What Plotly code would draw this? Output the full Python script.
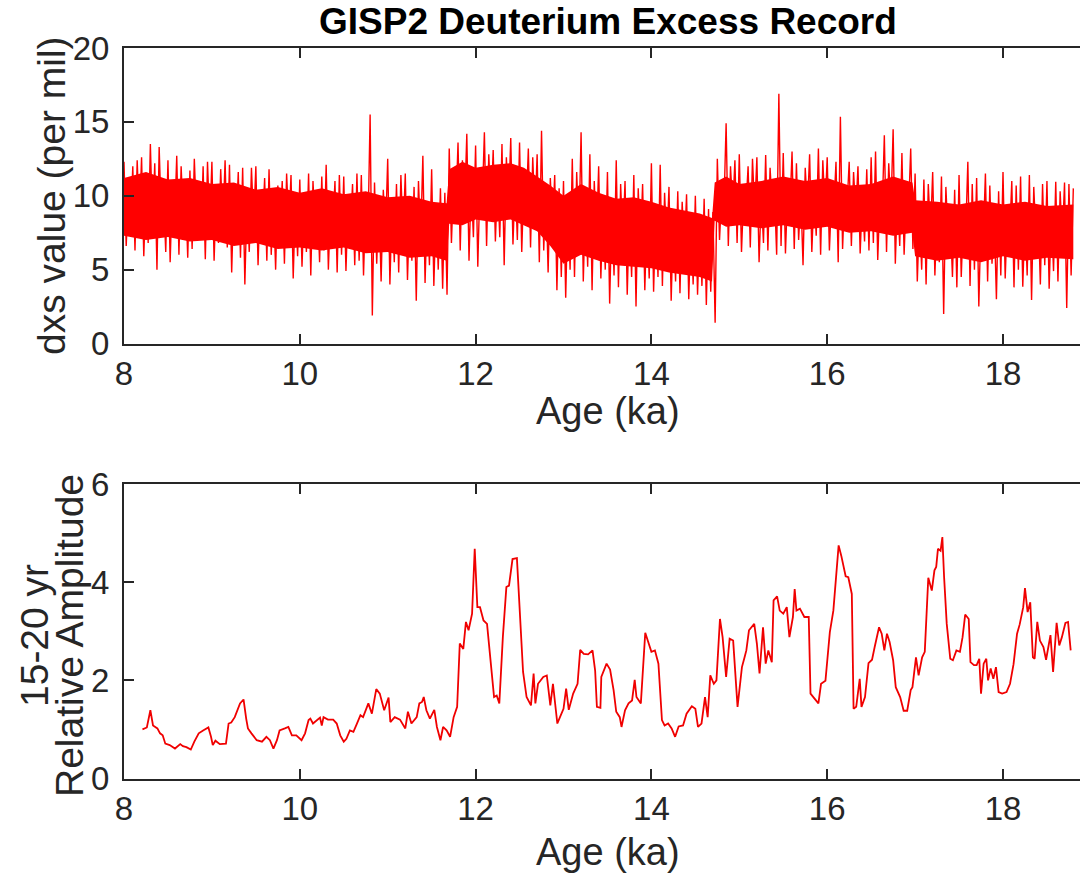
import numpy as np
import plotly.graph_objects as go

# ---------------- GISP2 deuterium excess (per mil) ----------------
# evenly sampled record, 0.025 ka spacing starting at 8.00 ka
dxs_start = 8.0
dxs_step = 0.025
dxs_samples = [
    # 8.0 - 8.5 ka
    12.3, 6.6, 10.2, 8.0, 12.0, 6.3, 12.4, 8.2, 12.6, 5.9, 10.4, 6.8, 13.5, 7.9, 12.2, 5.0, 13.3, 8.3, 10.1, 6.2,
    # 8.5 - 9.0
    12.4, 5.5, 10.6, 8.1, 12.7, 6.0, 12.0, 8.3, 10.5, 5.8, 11.7, 6.4, 12.5, 8.4, 10.2, 7.0, 12.0, 5.7, 12.3, 8.0,
    # 9.0 - 9.5
    12.3, 5.6, 10.3, 6.8, 11.8, 8.0, 12.4, 6.5, 12.1, 4.8, 10.2, 7.9, 11.6, 5.8, 11.9, 4.0, 10.0, 6.2, 11.9, 8.1,
    # 9.5 - 10.0
    12.0, 5.3, 10.0, 7.8, 11.2, 5.6, 11.8, 6.0, 9.9, 5.0, 10.7, 7.6, 11.0, 5.4, 11.5, 7.9, 11.4, 4.4, 9.8, 5.9,
    # 10.0 - 10.5
    11.1, 5.2, 9.6, 6.2, 11.5, 4.6, 11.0, 7.7, 9.9, 5.5, 11.3, 6.3, 12.1, 5.0, 9.5, 7.6, 11.0, 4.8, 11.4, 6.0,
    # 10.5 - 11.0
    11.3, 4.9, 9.6, 7.5, 10.8, 5.3, 11.5, 5.6, 11.4, 4.6, 9.7, 7.4, 15.5, 1.9, 10.9, 5.4, 9.8, 4.2, 10.4, 7.3,
    # 11.0 - 11.5
    12.5, 4.0, 9.5, 5.5, 10.8, 4.8, 11.4, 7.2, 11.5, 4.3, 9.2, 5.6, 10.6, 2.9, 11.0, 7.0, 12.7, 4.1, 9.4, 5.3,
    # 11.5 - 12.0
    11.8, 3.9, 9.3, 5.0, 10.5, 3.7, 10.2, 3.3, 13.2, 6.8, 11.2, 9.0, 13.6, 6.3, 12.4, 9.2, 14.2, 5.6, 11.0, 7.2,
    # 12.0 - 12.5
    13.4, 5.2, 11.0, 9.4, 14.3, 6.6, 12.8, 9.0, 13.1, 6.9, 11.2, 7.2, 13.5, 5.3, 12.6, 9.3, 13.9, 6.7, 11.1, 7.0,
    # 12.5 - 13.0
    13.6, 6.2, 11.2, 9.0, 13.2, 6.5, 12.6, 8.6, 12.8, 5.5, 14.4, 6.3, 10.6, 4.8, 11.2, 7.8, 11.4, 3.6, 10.5, 4.5,
    # 13.0 - 13.5
    11.0, 3.1, 9.6, 5.0, 12.5, 4.5, 11.6, 7.2, 14.3, 4.2, 9.8, 5.2, 12.8, 3.6, 11.0, 7.0, 12.0, 4.4, 9.7, 5.0,
    # 13.5 - 14.0
    11.6, 2.7, 9.2, 4.6, 12.4, 3.8, 10.8, 6.8, 11.0, 3.3, 9.0, 4.5, 11.4, 2.5, 10.5, 6.6, 10.8, 3.6, 9.0, 4.4,
    # 14.0 - 14.5
    12.2, 3.5, 9.0, 4.5, 12.1, 3.9, 10.2, 6.5, 10.6, 2.9, 8.6, 4.2, 10.3, 3.4, 9.6, 6.2, 10.1, 3.0, 8.4, 4.0,
    # 14.5 - 15.0
    10.0, 3.3, 8.2, 3.9, 9.8, 2.6, 9.1, 3.5, 8.9, 1.4, 12.5, 7.0, 10.2, 9.2, 14.9, 6.6, 12.0, 9.0, 12.4, 6.8,
    # 15.0 - 15.5
    12.8, 6.2, 10.2, 9.1, 12.0, 6.5, 12.5, 8.9, 12.6, 5.5, 10.0, 6.8, 12.75, 6.3, 11.9, 9.2, 10.3, 6.0, 16.9, 6.6,
    # 15.5 - 16.0
    12.9, 6.1, 10.4, 9.0, 13.0, 6.4, 12.2, 7.0, 10.1, 5.3, 11.9, 9.1, 12.8, 6.2, 10.2, 7.3, 13.2, 6.0, 12.4, 9.0,
    # 16.0 - 16.5
    12.6, 6.3, 10.0, 9.0, 12.3, 5.5, 15.35, 6.4, 10.4, 9.2, 12.3, 6.6, 11.6, 8.8, 12.0, 6.1, 10.0, 6.9, 11.8, 6.3,
    # 16.5 - 17.0
    12.6, 6.8, 13.0, 5.65, 10.0, 8.8, 14.1, 6.2, 12.2, 9.0, 14.5, 5.4, 10.3, 6.6, 12.9, 6.0, 10.2, 8.9, 13.2, 6.4,
    # 17.0 - 17.5
    11.5, 4.2, 8.8, 5.0, 11.1, 4.0, 10.8, 7.4, 11.6, 4.6, 8.9, 5.5, 11.3, 2.0, 10.6, 7.2, 8.6, 4.5, 10.4, 3.8,
    # 17.5 - 18.0
    11.4, 4.5, 8.8, 7.3, 12.3, 3.9, 10.8, 5.0, 11.2, 2.5, 8.6, 7.0, 11.5, 4.2, 10.7, 5.4, 8.7, 3.0, 10.3, 4.6,
    # 18.0 - 18.5
    11.6, 4.4, 8.9, 7.2, 11.0, 3.8, 10.7, 5.0, 11.3, 3.85, 8.7, 4.6, 11.4, 2.95, 10.6, 7.1, 8.8, 4.0, 10.8, 5.3,
    # 18.5 - 18.8
    11.0, 3.7, 8.9, 4.9, 10.95, 4.2, 10.3, 7.0, 10.9, 2.4, 10.8, 4.6, 10.5,
]

# dense central band of the record (where the samples overlap into a solid trace)
band_age = [8.0, 8.25, 8.5, 8.75, 9.0, 9.25, 9.5, 9.75, 10.0, 10.25,
            10.5, 10.75, 11.0, 11.25, 11.5, 11.67, 11.7, 11.85, 12.0, 12.2,
            12.4, 12.55, 12.7, 12.85, 13.0, 13.2, 13.4, 13.6, 13.8, 14.0,
            14.2, 14.4, 14.55, 14.69, 14.72, 14.85, 15.0, 15.25, 15.5, 15.75,
            16.0, 16.25, 16.5, 16.75, 16.97, 17.0, 17.25, 17.5, 17.75, 18.0,
            18.25, 18.5, 18.8]
band_hi = [11.2, 11.6, 11.1, 11.2, 10.8, 10.9, 10.4, 10.6, 10.2, 10.5,
           10.1, 10.3, 9.9, 10.0, 9.6, 9.5, 11.8, 12.3, 11.9, 12.1,
           12.2, 11.9, 11.3, 10.7, 10.0, 10.8, 10.2, 9.8, 9.9, 9.6,
           9.2, 9.0, 8.8, 8.5, 10.9, 11.3, 10.8, 11.0, 11.3, 11.0,
           11.2, 10.7, 10.8, 11.3, 10.9, 9.7, 9.6, 9.4, 9.7, 9.4,
           9.6, 9.3, 9.4]
band_lo = [7.3, 7.0, 7.2, 6.9, 7.0, 6.6, 6.8, 6.4, 6.5, 6.3,
           6.5, 6.1, 6.2, 5.8, 5.9, 5.6, 8.1, 8.0, 8.4, 8.2,
           8.4, 8.0, 7.6, 6.6, 5.4, 6.0, 5.6, 5.3, 5.2, 5.1,
           4.8, 4.6, 4.5, 4.2, 8.3, 7.9, 8.0, 7.8, 8.0, 7.7,
           7.9, 7.5, 7.6, 7.3, 7.5, 5.9, 5.6, 5.8, 5.5, 5.9,
           5.6, 5.8, 5.7]

# ---------------- 15-20 yr relative amplitude ----------------
amp_age = [
    8.21, 8.26, 8.30, 8.33, 8.38, 8.41, 8.44, 8.47, 8.52, 8.58,
    8.64, 8.67, 8.71, 8.76, 8.80, 8.85, 8.90, 8.96, 8.99, 9.01,
    9.04, 9.09, 9.16, 9.19, 9.22, 9.26, 9.32, 9.36, 9.39, 9.41,
    9.45, 9.51, 9.57, 9.62, 9.66, 9.70, 9.74, 9.77, 9.83, 9.87,
    9.91, 9.96, 10.02, 10.06, 10.10, 10.12, 10.15, 10.19, 10.23, 10.25,
    10.27, 10.32, 10.38, 10.42, 10.46, 10.50, 10.53, 10.57, 10.61, 10.65,
    10.69, 10.72, 10.78, 10.82, 10.87, 10.91, 10.96, 11.01, 11.03, 11.08,
    11.14, 11.20, 11.23, 11.27, 11.33, 11.36, 11.39, 11.41, 11.44, 11.48,
    11.53, 11.56, 11.60, 11.63, 11.67, 11.71, 11.75, 11.79, 11.82, 11.86,
    11.89, 11.92, 11.96, 11.99, 12.02, 12.05, 12.09, 12.13, 12.18, 12.21,
    12.24, 12.27, 12.31, 12.35, 12.38, 12.42, 12.47, 12.54, 12.58, 12.63,
    12.66, 12.68, 12.71, 12.77, 12.81, 12.85, 12.88, 12.93, 12.96, 13.00,
    13.03, 13.06, 13.11, 13.16, 13.19, 13.23, 13.28, 13.33, 13.36, 13.38,
    13.42, 13.43, 13.49, 13.53, 13.57, 13.60, 13.64, 13.66, 13.70, 13.74,
    13.78, 13.81, 13.83, 13.88, 13.93, 13.97, 14.00, 14.04, 14.08, 14.12,
    14.15, 14.19, 14.23, 14.27, 14.31, 14.36, 14.40, 14.46, 14.50, 14.53,
    14.57, 14.61, 14.64, 14.67, 14.71, 14.74, 14.78, 14.81, 14.85, 14.89,
    14.93, 14.98, 15.03, 15.06, 15.08, 15.11, 15.17, 15.20, 15.23, 15.27,
    15.30, 15.33, 15.37, 15.39, 15.43, 15.46, 15.50, 15.54, 15.57, 15.61,
    15.63, 15.65, 15.69, 15.74, 15.79, 15.81, 15.86, 15.90, 15.93, 15.98,
    16.03, 16.07, 16.13, 16.16, 16.21, 16.24, 16.28, 16.30, 16.33, 16.37,
    16.39, 16.43, 16.47, 16.51, 16.54, 16.59, 16.62, 16.65, 16.68, 16.71,
    16.75, 16.78, 16.83, 16.87, 16.91, 16.95, 16.97, 17.01, 17.04, 17.08,
    17.11, 17.15, 17.19, 17.22, 17.24, 17.26, 17.29, 17.31, 17.33, 17.36,
    17.40, 17.43, 17.47, 17.51, 17.54, 17.57, 17.61, 17.63, 17.67, 17.70,
    17.73, 17.75, 17.78, 17.81, 17.83, 17.86, 17.89, 17.92, 17.95, 17.99,
    18.04, 18.08, 18.12, 18.16, 18.19, 18.23, 18.25, 18.28, 18.31, 18.34,
    18.36, 18.39, 18.42, 18.46, 18.49, 18.54, 18.57, 18.61, 18.64, 18.67,
    18.71, 18.74, 18.77,
]
amp_val = [
    1.00, 1.04, 1.39, 1.08, 1.02, 0.92, 0.88, 0.71, 0.68, 0.61,
    0.70, 0.66, 0.64, 0.59, 0.75, 0.92, 0.98, 1.04, 0.85, 0.68,
    0.77, 0.70, 0.71, 1.12, 1.14, 1.25, 1.53, 1.61, 1.22, 1.02,
    0.92, 0.78, 0.75, 0.85, 0.78, 0.61, 0.78, 0.98, 1.02, 1.05,
    0.88, 0.88, 0.78, 0.92, 1.19, 1.22, 1.12, 1.19, 1.24, 1.08,
    1.25, 1.20, 1.20, 1.12, 0.88, 0.75, 0.81, 0.98, 0.95, 1.12,
    1.29, 1.25, 1.53, 1.32, 1.82, 1.73, 1.39, 1.65, 1.15, 1.25,
    1.20, 1.02, 1.36, 1.12, 1.25, 1.53, 1.56, 1.66, 1.39, 1.22,
    1.40, 1.05, 0.78, 1.05, 0.98, 0.85, 1.25, 1.46, 2.75, 2.64,
    3.19, 3.02, 3.36, 4.68, 3.49, 3.49, 3.22, 3.15, 2.20, 1.66,
    1.69, 1.53, 2.88, 3.90, 3.93, 4.47, 4.49, 2.17, 1.66, 1.49,
    2.14, 1.53, 1.93, 2.07, 2.10, 1.49, 1.93, 1.12, 1.25, 1.42,
    1.83, 1.40, 1.73, 1.93, 2.62, 2.54, 2.53, 2.61, 2.20, 1.46,
    1.44, 2.07, 2.34, 2.22, 1.80, 1.36, 1.25, 1.05, 1.39, 1.53,
    1.59, 2.01, 1.66, 1.53, 2.97, 2.75, 2.58, 2.61, 2.34, 1.19,
    1.08, 1.12, 1.02, 0.85, 1.06, 1.08, 1.32, 1.47, 1.42, 1.05,
    1.12, 1.66, 1.25, 2.10, 1.93, 2.00, 3.25, 2.88, 2.07, 2.85,
    2.81, 1.46, 2.27, 2.47, 2.61, 3.02, 3.15, 2.75, 2.14, 3.08,
    2.34, 2.61, 2.37, 3.63, 3.71, 3.42, 3.36, 3.49, 2.88, 3.29,
    3.86, 3.42, 3.46, 3.29, 3.29, 1.73, 1.63, 1.53, 1.93, 1.99,
    2.98, 3.42, 4.75, 4.54, 4.12, 4.10, 3.76, 1.42, 1.46, 2.03,
    1.46, 1.66, 2.35, 2.42, 2.68, 3.08, 2.95, 2.61, 2.95, 2.78,
    2.41, 1.86, 1.66, 1.38, 1.38, 1.80, 1.86, 2.47, 2.10, 2.47,
    2.58, 4.09, 3.83, 4.24, 4.31, 4.68, 4.64, 4.92, 4.10, 3.15,
    2.44, 2.41, 2.61, 2.58, 2.88, 3.34, 3.25, 2.37, 2.31, 2.31,
    2.44, 1.73, 2.34, 2.44, 2.00, 2.24, 2.03, 2.27, 1.76, 1.73,
    1.76, 1.93, 2.33, 2.95, 3.14, 3.49, 3.88, 3.39, 3.59, 2.47,
    2.44, 3.19, 2.81, 2.68, 2.42, 2.92, 2.17, 3.17, 2.71, 2.88,
    3.17, 3.19, 2.61,
]

x_ticks = [8, 10, 12, 14, 16, 18]
dxs_ticks = [0, 5, 10, 15, 20]
amp_ticks = [0, 2, 4, 6]

title_text = "GISP2 Deuterium Excess Record"
x_title = "Age (ka)"
dxs_title = "dxs value (per mil)"
amp_title_lines = ["15-20 yr", "Relative Amplitude"]

# ---------------- styling ----------------
RED = "#ff0000"
INK = "#262626"
FONT = "Liberation Sans, Arial, Helvetica, sans-serif"
W, H = 1080, 875
LEFT_PX = 124
TOP_AX = (48, 343.5)      # pixel rows of the upper axes box (top, bottom)
BOT_AX = (484, 778.5)     # pixel rows of the lower axes box
X_MAX = 8 + (W - LEFT_PX) / 87.9


def ydom(rows):
    top, bottom = rows
    return [1 - bottom / H, 1 - top / H]


def px(x):
    return x / W


def py(y):
    return 1 - y / H


dxs_age = np.round(dxs_start + dxs_step * np.arange(len(dxs_samples)), 4)

fig = go.Figure()

# upper panel: solid core of the dense record, then the individual samples
fig.add_trace(go.Scatter(x=band_age, y=band_lo, mode="lines",
                         line=dict(width=0, color=RED), hoverinfo="skip",
                         showlegend=False, xaxis="x", yaxis="y"))
fig.add_trace(go.Scatter(x=band_age, y=band_hi, mode="lines", fill="tonexty",
                         fillcolor=RED, line=dict(width=0, color=RED),
                         hoverinfo="skip", showlegend=False, xaxis="x", yaxis="y"))
fig.add_trace(go.Scatter(x=dxs_age, y=dxs_samples, mode="lines",
                         line=dict(width=1.4, color=RED),
                         showlegend=False, xaxis="x", yaxis="y"))

# lower panel
fig.add_trace(go.Scatter(x=amp_age, y=amp_val, mode="lines",
                         line=dict(width=1.8, color="#f00000"),
                         showlegend=False, xaxis="x2", yaxis="y2"))

axis_common = dict(
    showline=True, linecolor=INK, linewidth=2,
    ticks="inside", ticklen=10, tickwidth=2, tickcolor=INK,
    showgrid=False, zeroline=False, automargin=False,
    tickfont=dict(family=FONT, size=33, color=INK),
)

fig.update_layout(
    width=W, height=H,
    margin=dict(l=0, r=0, t=0, b=0, autoexpand=False),
    paper_bgcolor="white", plot_bgcolor="white",
    showlegend=False,
    xaxis=dict(domain=[LEFT_PX / W, 1], range=[8, X_MAX], tickvals=x_ticks,
               mirror="ticks", anchor="y", ticklabelstandoff=0, **axis_common),
    yaxis=dict(domain=ydom(TOP_AX), range=[0, 20], tickvals=dxs_ticks,
               mirror=False, anchor="x", ticklabelstandoff=6, **axis_common),
    xaxis2=dict(domain=[LEFT_PX / W, 1], range=[8, X_MAX], tickvals=x_ticks,
                mirror="ticks", anchor="y2", ticklabelstandoff=0, **axis_common),
    yaxis2=dict(domain=ydom(BOT_AX), range=[0, 6], tickvals=amp_ticks,
                mirror=False, anchor="x2", ticklabelstandoff=6, **axis_common),
)

label_font = dict(family=FONT, size=38, color=INK)
ylabel_font = dict(family=FONT, size=39, color=INK)
common_ann = dict(xref="paper", yref="paper", showarrow=False,
                  xanchor="center", yanchor="middle")
fig.add_annotation(text="<b>" + title_text + "</b>", x=px(608), y=py(22),
                   font=dict(family=FONT, size=37, color="black"), **common_ann)
fig.add_annotation(text=x_title, x=px(608), y=py(411), font=label_font, **common_ann)
fig.add_annotation(text=x_title, x=px(608), y=py(852), font=label_font, **common_ann)
fig.add_annotation(text=dxs_title, x=px(52), y=py(196), textangle=-90,
                   font=ylabel_font, **common_ann)
fig.add_annotation(text=amp_title_lines[0], x=px(34), y=py(636), textangle=-90,
                   font=ylabel_font, **common_ann)
fig.add_annotation(text=amp_title_lines[1], x=px(69), y=py(636), textangle=-90,
                   font=ylabel_font, **common_ann)

fig.write_html("out.html")
